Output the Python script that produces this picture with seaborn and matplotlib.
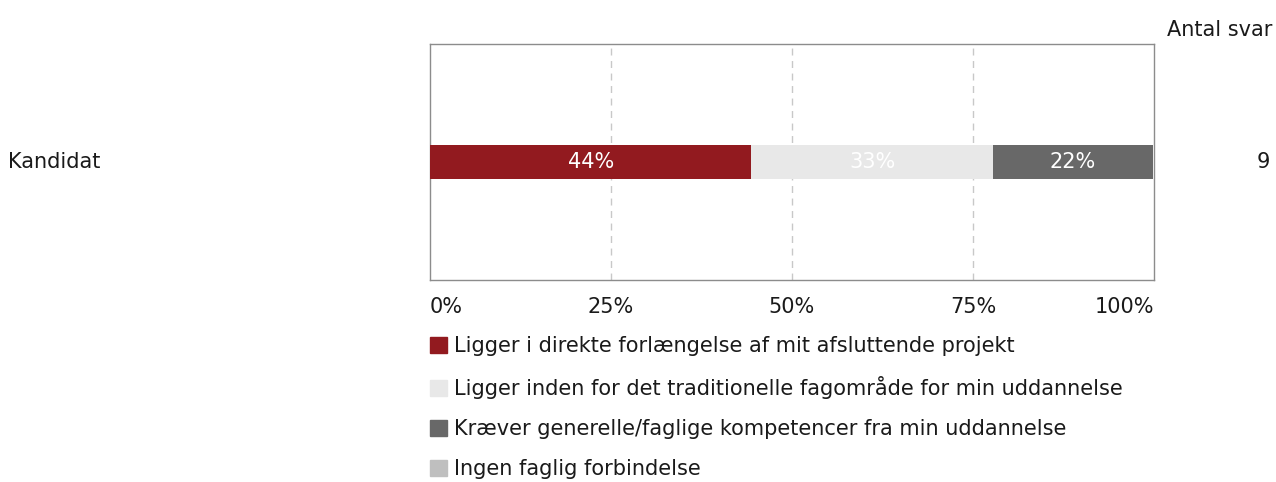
import matplotlib
matplotlib.use("Agg")
import matplotlib.pyplot as plt
import matplotlib.patches as mpatches
import seaborn as sns
import pandas as pd

# data
categories = ["Kandidat"]
answers = ["Ligger i direkte forlængelse af mit afsluttende projekt",
           "Ligger inden for det traditionelle fagområde for min uddannelse",
           "Kræver generelle/faglige kompetencer fra min uddannelse",
           "Ingen faglig forbindelse"]
shares = [44.4, 33.3, 22.2, 0.0]
n_answers = [9]
colors = ["#921a1f", "#e8e8e8", "#686868", "#bfbfbf"]
tick_labels = ["0%", "25%", "50%", "75%", "100%"]

sns.set_style("white")
plt.rcParams['font.family'] = ['DejaVu Sans']
plt.rcParams['text.color'] = '#1a1a1a'
plt.rcParams['xtick.color'] = '#1a1a1a'

fig = plt.figure(figsize=(12.76, 4.82), dpi=100)
ax = fig.add_axes([430 / 1276, 1 - 280 / 482, 724 / 1276, 236 / 482])

# stacked bars: draw cumulative totals from the back
cum = pd.Series(shares).cumsum().tolist()
for i in reversed(range(len(shares))):
    df = pd.DataFrame({"cat": categories, "val": [cum[i]]})
    sns.barplot(data=df, x="val", y="cat", orient="h", color=colors[i],
                width=0.14, ax=ax, saturation=1, linewidth=0, zorder=3)

left = 0
for s in shares:
    if s > 0:
        ax.text(left + s / 2, 0, f"{round(s)}%", ha="center", va="center",
                color="white", fontsize=15, zorder=4)
    left += s

ax.set_xlim(0, 100)
ax.set_ylim(0.5, -0.5)
ax.set_xticks([0, 25, 50, 75, 100])
ax.set_xticklabels(tick_labels, fontsize=15)
ticks = ax.get_xticklabels()
ticks[0].set_ha("left")
ticks[-1].set_ha("right")
ax.tick_params(axis="x", length=0, pad=12)
ax.set_yticks([])
ax.set_xlabel("")
ax.set_ylabel("")
for x in [25, 50, 75]:
    ax.axvline(x, color="#c8c8c8", linestyle=(0, (5, 4)), linewidth=1, zorder=1)
for sp in ax.spines.values():
    sp.set_color("#8c8c8c")
    sp.set_linewidth(1)

fig.text(8 / 1276, 1 - 162 / 482, categories[0], ha="left", va="center", fontsize=15)
fig.text(1270 / 1276, 1 - 162 / 482, str(n_answers[0]), ha="right", va="center", fontsize=15)
fig.text(1272 / 1276, 1 - 30 / 482, "Antal svar", ha="right", va="center", fontsize=15)

handles = [mpatches.Patch(color=c, label=a) for c, a in zip(colors, answers)]
fig.legend(handles=handles, loc="upper left", bbox_to_anchor=(430 / 1276, 1 - 336 / 482),
           frameon=False, fontsize=15, handlelength=0.82, handleheight=0.82,
           handletextpad=0.34, labelspacing=0.96, borderaxespad=0, borderpad=0)

fig.savefig("out.png", dpi=100)
